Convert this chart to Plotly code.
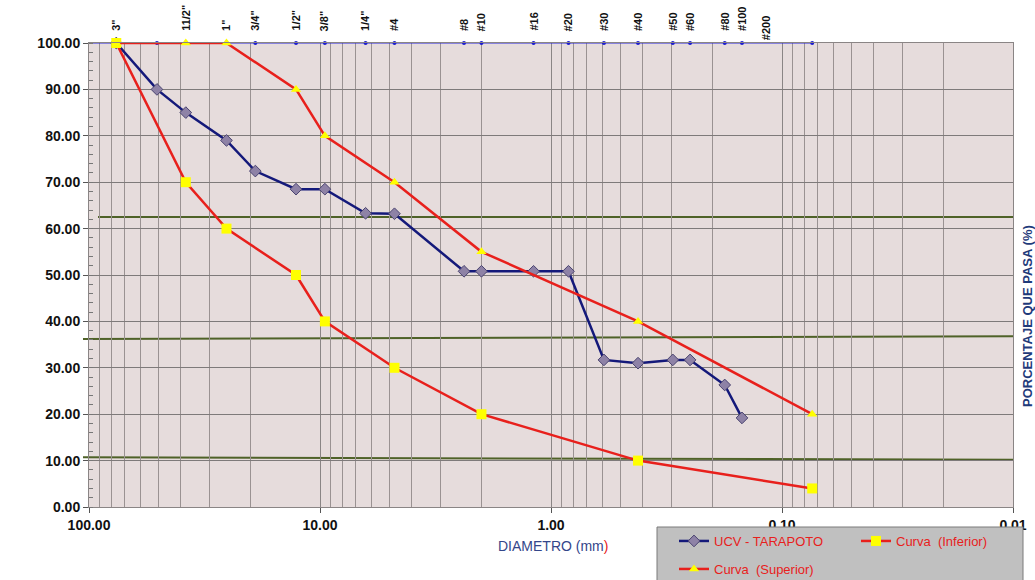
import numpy as np
import plotly.graph_objects as go

# ---------------- data ----------------
sieve_mm = [101.6, 76.2, 50.8, 38.1, 25.4, 19.05, 12.7, 9.525, 6.35, 4.76,
            2.38, 2.00, 1.19, 0.84, 0.59, 0.42, 0.297, 0.25, 0.177, 0.149, 0.074]
sieve_labels = ["", '3"', "", '11/2"', '1"', '3/4"', '1/2"', '3/8"', '1/4"', "#4",
                "#8", "#10", "#16", "#20", "#30", "#40", "#50", "#60", "#80", "#100", "#200"]
sieve_pct = [100] * len(sieve_mm)

ucv_mm = [76.2, 50.8, 38.1, 25.4, 19.05, 12.7, 9.525, 6.35, 4.76, 2.38, 2.00,
          1.19, 0.84, 0.59, 0.42, 0.297, 0.25, 0.177, 0.149]
ucv_pct = [100, 90, 85, 79, 72.4, 68.5, 68.5, 63.3, 63.2, 50.8, 50.8,
           50.8, 50.8, 31.7, 31.0, 31.7, 31.7, 26.3, 19.2]

inf_mm = [76.2, 38.1, 25.4, 12.7, 9.525, 4.76, 2.00, 0.42, 0.074]
inf_pct = [100, 70, 60, 50, 40, 30, 20, 10, 4]

sup_mm = [76.2, 38.1, 25.4, 12.7, 9.525, 4.76, 2.00, 0.42, 0.074]
sup_pct = [100, 100, 100, 90, 80, 70, 55, 40, 20]

x_tickvals = [100, 10, 1, 0.1, 0.01]
x_ticktext = ["100.00", "10.00", "1.00", "0.10", "0.01"]
y_tickvals = list(range(0, 101, 10))
y_ticktext = [f"{v:.2f}" for v in y_tickvals]

# reference (green) lines: (left value, right value)
ref_lines = [(62.5, 62.5), (36.2, 36.8), (10.7, 10.2)]

FONT = "Liberation Sans, Arial, sans-serif"
NAVY = "#14197A"
RED = "#E8201C"
W, H = 1035, 580
L, R, T, B = 89, 22, 43, 73
PW, PH = W - L - R, H - T - B


def px_x(p):
    return (p - L) / PW


def px_y(p):
    return (H - B - p) / PH


fig = go.Figure()

fig.add_trace(go.Scatter(
    x=sieve_mm, y=sieve_pct, mode="lines+markers", showlegend=False,
    line=dict(color="#2B2BE0", width=1), marker=dict(color="#1A1AD0", size=4),
    cliponaxis=False, hoverinfo="skip"))

fig.add_trace(go.Scatter(
    x=ucv_mm, y=ucv_pct, mode="lines+markers", name="UCV - TARAPOTO",
    line=dict(color=NAVY, width=2.5),
    marker=dict(symbol="diamond", size=9, color="#8E82A6",
                line=dict(color="#4A4470", width=1)),
    cliponaxis=False, legend="legend"))

fig.add_trace(go.Scatter(
    x=inf_mm, y=inf_pct, mode="lines+markers", name="Curva  (Inferior)",
    line=dict(color=RED, width=2.5),
    marker=dict(symbol="square", size=10, color="#FFFF00"),
    cliponaxis=False, legend="legend"))

fig.add_trace(go.Scatter(
    x=sup_mm, y=sup_pct, mode="lines+markers", name="Curva  (Superior)",
    line=dict(color=RED, width=2.5),
    marker=dict(symbol="triangle-up", size=9, color="#FFFF00"),
    cliponaxis=False, legend="legend2"))

# sieve labels on top
for mm, lab in zip(sieve_mm, sieve_labels):
    if not lab:
        continue
    extra = {}
    if lab == "#200":
        extra = dict(xshift=-46, y=px_y(42))
    ann = dict(x=np.log10(mm), y=px_y(33), xref="x", yref="paper", text=lab,
               textangle=-90, showarrow=False, yanchor="bottom", xanchor="center",
               font=dict(family=FONT, size=11, color="#111111", weight="bold"))
    ann.update(extra)
    fig.add_annotation(**ann)

# axis titles
fig.add_annotation(x=px_x(553), y=px_y(546), xref="paper", yref="paper",
                   text="DIAMETRO (mm<span style='color:#E8201C'>)</span>",
                   showarrow=False, yanchor="middle", xanchor="center",
                   font=dict(family=FONT, size=14, color="#34468A"))
fig.add_annotation(x=px_x(1027), y=px_y(316), xref="paper", yref="paper",
                   text="PORCENTAJE QUE PASA (%)", textangle=-90,
                   showarrow=False, xanchor="center", yanchor="middle",
                   font=dict(family=FONT, size=13, color="#1F3A7A", weight="bold"))

# green reference lines
for i, (yl, yr) in enumerate(ref_lines):
    fig.add_shape(type="line", xref="paper", yref="y",
                  x0=px_x(98) if i == 0 else px_x(83), x1=1.0, y0=yl, y1=yr,
                  line=dict(color="#4F6228", width=2), layer="between")

# legend box background
fig.add_shape(type="rect", xref="paper", yref="paper",
              x0=px_x(657), x1=px_x(1023), y0=px_y(527), y1=px_y(600),
              fillcolor="#C0C0C0", line=dict(color="#7A7A7A", width=1),
              layer="above")

minor_vals = [m * 10.0 ** e for e in range(-2, 2) for m in range(2, 10)]

fig.update_xaxes(
    type="log", range=[2, -2], automargin=False,
    tickvals=x_tickvals, ticktext=x_ticktext,
    tickfont=dict(family=FONT, size=14, color="#111111", weight="bold"),
    ticks="outside", ticklen=5, tickcolor="#555555",
    showgrid=True, gridcolor="#8A8585", gridwidth=1,
    minor=dict(tickvals=minor_vals, showgrid=True, gridcolor="#9A9292",
               gridwidth=1, ticks=""),
    showline=True, linecolor="#8A8585", linewidth=1, mirror=True,
    zeroline=False)

fig.update_yaxes(
    range=[0, 100], tickvals=y_tickvals, ticktext=y_ticktext, automargin=False,
    tickfont=dict(family=FONT, size=14, color="#111111", weight="bold"),
    ticks="outside", ticklen=5, tickcolor="#555555",
    showgrid=True, gridcolor="#7E7A7A", gridwidth=1,
    minor=dict(dtick=2, ticks="inside", ticklen=4, tickcolor="#777777",
               showgrid=False),
    showline=True, linecolor="#8A8585", linewidth=1, mirror=True,
    zeroline=False)

leg_common = dict(orientation="h", xref="container", yref="container",
                  xanchor="left", yanchor="middle",
                  bgcolor="rgba(0,0,0,0)", borderwidth=0,
                  entrywidth=137, entrywidthmode="pixels",
                  font=dict(family=FONT, size=13, color=RED),
                  itemwidth=30, tracegroupgap=0)

fig.update_layout(
    width=W, height=H,
    margin=dict(l=L, r=R, t=T, b=B, pad=0, autoexpand=False),
    paper_bgcolor="#FFFFFF", plot_bgcolor="#E6DCDC",
    font=dict(family=FONT),
    legend=dict(x=674 / W, y=(H - 541) / H, **leg_common),
    legend2=dict(x=674 / W, y=(H - 569) / H, **leg_common),
)

fig.write_html("out.html", config={"displayModeBar": False},
               post_script="document.body.style.margin='0px';")
